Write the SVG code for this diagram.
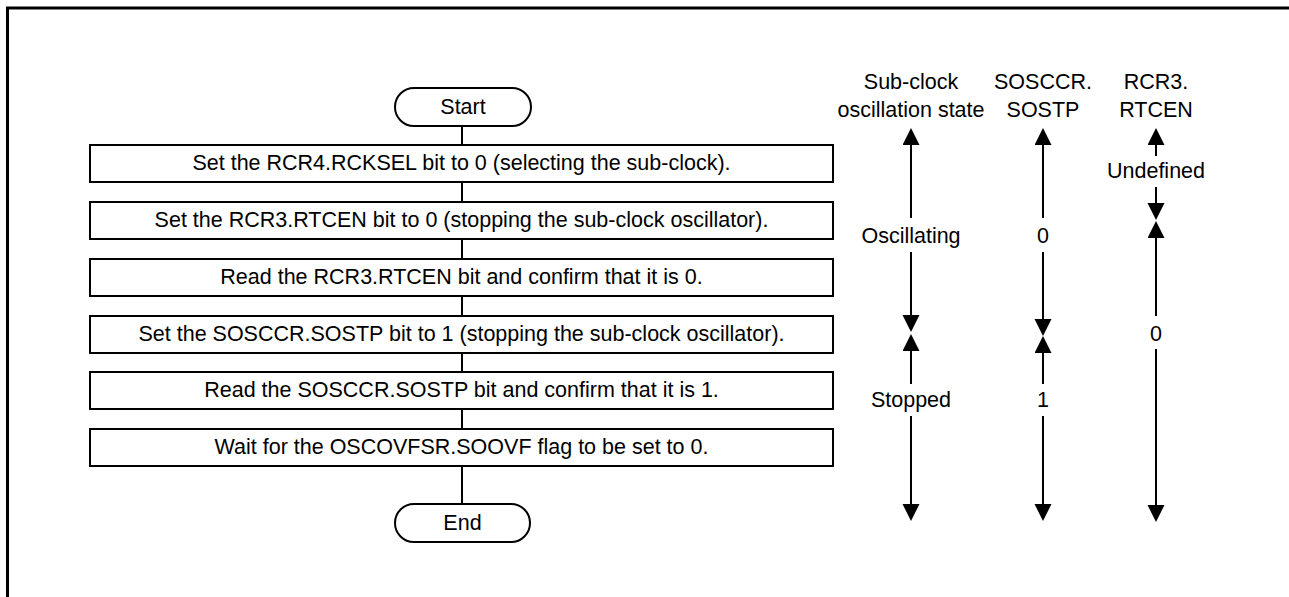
<svg xmlns="http://www.w3.org/2000/svg" width="1289" height="597" viewBox="0 0 1289 597">
  <style>
    text { font-family: "Liberation Sans", Arial, sans-serif; font-size: 21.5px; fill: #000; text-anchor: middle; }
    .box { fill: #fff; stroke: #000; stroke-width: 2; }
    .ln { stroke: #000; stroke-width: 2; fill: none; }
    .arr { stroke: #000; stroke-width: 2; fill: none; marker-end: url(#ah); }
  </style>
  <defs>
    <marker id="ah" markerUnits="userSpaceOnUse" markerWidth="18" markerHeight="18" refX="1" refY="8.5" orient="auto">
      <path d="M0,0 L17,8.5 L0,17 Z" fill="#000"/>
    </marker>
  </defs>
  <rect x="0" y="0" width="1289" height="597" fill="#fff"/>
  <path d="M7.5,597 V8 H1289" fill="none" stroke="#000" stroke-width="3"/>

  <g id="connectors">
    <line class="ln" x1="462" y1="126" x2="462" y2="145"/>
    <line class="ln" x1="462" y1="182" x2="462" y2="202"/>
    <line class="ln" x1="462" y1="239" x2="462" y2="259"/>
    <line class="ln" x1="462" y1="296" x2="462" y2="316"/>
    <line class="ln" x1="462" y1="353" x2="462" y2="372"/>
    <line class="ln" x1="462" y1="409" x2="462" y2="429"/>
    <line class="ln" x1="462" y1="466" x2="462" y2="504"/>
  </g>

  <g id="start">
    <rect class="box" x="395" y="88" width="136" height="38" rx="19" ry="19"/>
    <text x="463" y="114">Start</text>
  </g>
  <g id="step1">
    <rect class="box" x="90" y="145" width="743" height="37"/>
    <text x="461.5" y="170">Set the RCR4.RCKSEL bit to 0 (selecting the sub-clock).</text>
  </g>
  <g id="step2">
    <rect class="box" x="90" y="202" width="743" height="37"/>
    <text x="461.5" y="227">Set the RCR3.RTCEN bit to 0 (stopping the sub-clock oscillator).</text>
  </g>
  <g id="step3">
    <rect class="box" x="90" y="259" width="743" height="37"/>
    <text x="461.5" y="284">Read the RCR3.RTCEN bit and confirm that it is 0.</text>
  </g>
  <g id="step4">
    <rect class="box" x="90" y="316" width="743" height="37"/>
    <text x="461.5" y="341">Set the SOSCCR.SOSTP bit to 1 (stopping the sub-clock oscillator).</text>
  </g>
  <g id="step5">
    <rect class="box" x="90" y="372" width="743" height="37"/>
    <text x="461.5" y="397">Read the SOSCCR.SOSTP bit and confirm that it is 1.</text>
  </g>
  <g id="step6">
    <rect class="box" x="90" y="429" width="743" height="37"/>
    <text x="461.5" y="454">Wait for the OSCOVFSR.SOOVF flag to be set to 0.</text>
  </g>
  <g id="end">
    <rect class="box" x="395" y="504" width="135" height="38" rx="19" ry="19"/>
    <text x="462.5" y="530">End</text>
  </g>

  <g id="col-oscillation">
    <text x="911" y="89">Sub-clock</text>
    <text x="911" y="117">oscillation state</text>
    <line class="arr" x1="911" y1="218" x2="911" y2="144"/>
    <line class="arr" x1="911" y1="252" x2="911" y2="316"/>
    <text x="911" y="243">Oscillating</text>
    <line class="arr" x1="911" y1="384" x2="911" y2="350"/>
    <line class="arr" x1="911" y1="416" x2="911" y2="505"/>
    <text x="911" y="407">Stopped</text>
  </g>

  <g id="col-sostp">
    <text x="1043" y="89">SOSCCR.</text>
    <text x="1043" y="117">SOSTP</text>
    <line class="arr" x1="1043" y1="218" x2="1043" y2="144"/>
    <line class="arr" x1="1043" y1="252" x2="1043" y2="320"/>
    <text x="1043" y="243">0</text>
    <line class="arr" x1="1043" y1="384" x2="1043" y2="352"/>
    <line class="arr" x1="1043" y1="416" x2="1043" y2="505"/>
    <text x="1043" y="407">1</text>
  </g>

  <g id="col-rtcen">
    <text x="1156" y="89">RCR3.</text>
    <text x="1156" y="117">RTCEN</text>
    <line class="arr" x1="1156" y1="156" x2="1156" y2="144"/>
    <text x="1156" y="178">Undefined</text>
    <line class="arr" x1="1156" y1="187" x2="1156" y2="204"/>
    <line class="arr" x1="1156" y1="316" x2="1156" y2="237"/>
    <text x="1156" y="341">0</text>
    <line class="arr" x1="1156" y1="349" x2="1156" y2="506"/>
  </g>
</svg>
